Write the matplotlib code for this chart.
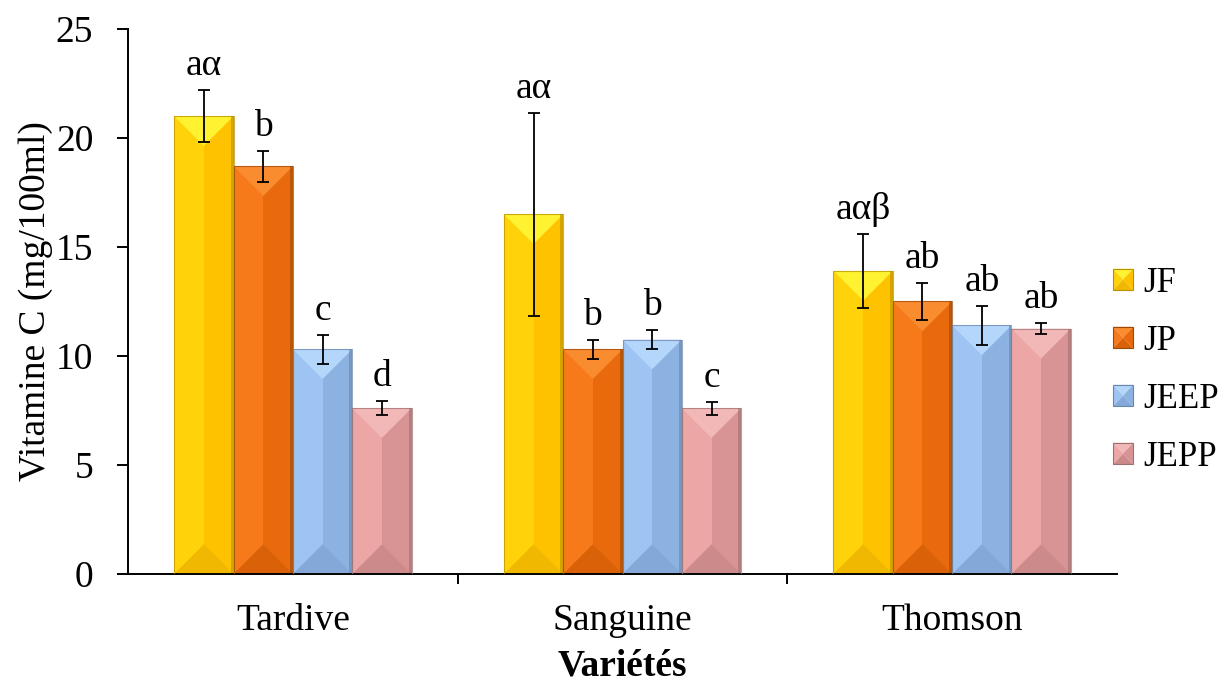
import numpy as np
import matplotlib.pyplot as plt
from matplotlib.patches import Polygon, Rectangle, Patch
from matplotlib.legend_handler import HandlerBase

plt.rcParams['font.family'] = ['Liberation Serif', 'DejaVu Serif']

varietes = ["Tardive", "Sanguine", "Thomson"]
series = ["JF", "JP", "JEEP", "JEPP"]
jf = [21.0, 16.5, 13.9]
jp = [18.7, 10.3, 12.5]
jeep = [10.3, 10.75, 11.4]
jepp = [7.6, 7.6, 11.25]
jf_err = [1.2, 4.65, 1.7]
jp_err = [0.7, 0.45, 0.85]
jeep_err = [0.68, 0.45, 0.88]
jepp_err = [0.33, 0.3, 0.25]
jf_lab = ["aα", "aα", "aαβ"]
jp_lab = ["b", "b", "ab"]
jeep_lab = ["c", "b", "ab"]
jepp_lab = ["d", "c", "ab"]

values = [jf, jp, jeep, jepp]
errors = [jf_err, jp_err, jeep_err, jepp_err]
labels = [jf_lab, jp_lab, jeep_lab, jepp_lab]

# (left face, right face, top bevel, bottom bevel, edge)
colors = [
    ("#FFD20A", "#FFC200", "#FFF230", "#F0B800", "#B89000"),
    ("#F77A1A", "#E86A0C", "#FA8C30", "#D96208", "#9A4A08"),
    ("#9EC4F4", "#8CB2E2", "#B4D6FA", "#84A8D8", "#6A86AA"),
    ("#ECA6A6", "#D89494", "#F2B8B8", "#CC8A8A", "#9E7070"),
]

FS = 27

fig = plt.figure(figsize=(12.23, 6.82), dpi=100)
ax = fig.add_axes([0.1047, 0.1584, 0.8086, 0.7991])
ax.set_xlim(-0.5, 2.5)
ax.set_ylim(0, 25)

bw = 0.18
x = np.arange(len(varietes))
ppu = ax.bbox.height / 25.0
ppx = ax.bbox.width / 3.0


def bevel_bar(x0, h, c):
    x1 = x0 + bw
    xm = x0 + bw / 2
    dy = (bw / 2) * ppx / ppu
    ax.add_patch(Rectangle((x0, 0), bw, h, facecolor=c[1], edgecolor="none", zorder=2))
    ax.add_patch(Rectangle((x0, 0), bw / 2, h, facecolor=c[0], edgecolor="none", zorder=2))
    ax.add_patch(Polygon([(x0, h), (x1, h), (xm, h - dy)], closed=True,
                         facecolor=c[2], edgecolor="none", zorder=2))
    ax.add_patch(Polygon([(x0, 0), (x1, 0), (xm, dy)], closed=True,
                         facecolor=c[3], edgecolor="none", zorder=2))
    ax.add_patch(Rectangle((x1 - bw * 0.05, 0), bw * 0.05, h, facecolor=c[4],
                           edgecolor="none", alpha=0.6, zorder=2))
    ax.add_patch(Rectangle((x0, 0), bw, h, facecolor="none", edgecolor=c[4],
                           linewidth=0.8, alpha=0.7, zorder=3))


class PyramidHandler(HandlerBase):
    def __init__(self, c):
        super().__init__()
        self.c = c

    def create_artists(self, legend, orig_handle, xdescent, ydescent, width, height,
                       fontsize, trans):
        c = self.c
        x0, y0 = -xdescent, -ydescent
        x1, y1 = x0 + width, y0 + height
        xm, ym = (x0 + x1) / 2, (y0 + y1) / 2
        parts = [
            ([(x0, y1), (x1, y1), (xm, ym)], c[2]),
            ([(x0, y0), (x0, y1), (xm, ym)], c[0]),
            ([(x1, y0), (x1, y1), (xm, ym)], c[1]),
            ([(x0, y0), (x1, y0), (xm, ym)], c[3]),
        ]
        arts = [Polygon(p, closed=True, facecolor=col, edgecolor="none", transform=trans)
                for p, col in parts]
        arts.append(Rectangle((x0, y0), width, height, facecolor="none", edgecolor=c[4],
                              linewidth=0.8, transform=trans))
        return arts


for i in range(4):
    pos = x - 2 * bw + i * bw
    for j in range(len(varietes)):
        bevel_bar(pos[j], values[i][j], colors[i])
    ax.errorbar(pos + bw / 2, values[i], yerr=errors[i], fmt="none", ecolor="black",
                elinewidth=1.3, capsize=4.5, capthick=1.3, zorder=4)
    for j in range(len(varietes)):
        ax.annotate(labels[i][j], (pos[j] + bw / 2, values[i][j] + errors[i][j]),
                    xytext=(0, 5), textcoords="offset points", ha="center", va="bottom",
                    fontsize=FS)

ax.spines["top"].set_visible(False)
ax.spines["right"].set_visible(False)
ax.spines["left"].set_linewidth(1.4)
ax.spines["bottom"].set_linewidth(1.4)

ax.set_yticks([0, 5, 10, 15, 20, 25])
ax.tick_params(axis="y", labelsize=FS, direction="out", length=8, width=1.4, pad=17)
ax.set_xticks([0.5, 1.5])
ax.set_xticklabels([])
ax.tick_params(axis="x", direction="out", length=7, width=1.4)
ax.set_xticks(x, varietes, minor=True)
ax.tick_params(axis="x", which="minor", length=0, labelsize=FS, pad=21)

ax.set_ylabel("Vitamine C (mg/100ml)", fontsize=FS, labelpad=2)
ax.set_xlabel("Variétés", fontsize=FS, fontweight="bold", labelpad=8)

handles = [Patch(facecolor=c[1]) for c in colors]
hmap = {h: PyramidHandler(c) for h, c in zip(handles, colors)}
fig.legend(handles, series, loc="center left", bbox_to_anchor=(1113 / 1223, 0.457),
           frameon=False, fontsize=25, handlelength=0.58, handleheight=0.58,
           handletextpad=0.28, labelspacing=0.72, borderpad=0, borderaxespad=0,
           handler_map=hmap)

fig.savefig("out.png", dpi=100)
